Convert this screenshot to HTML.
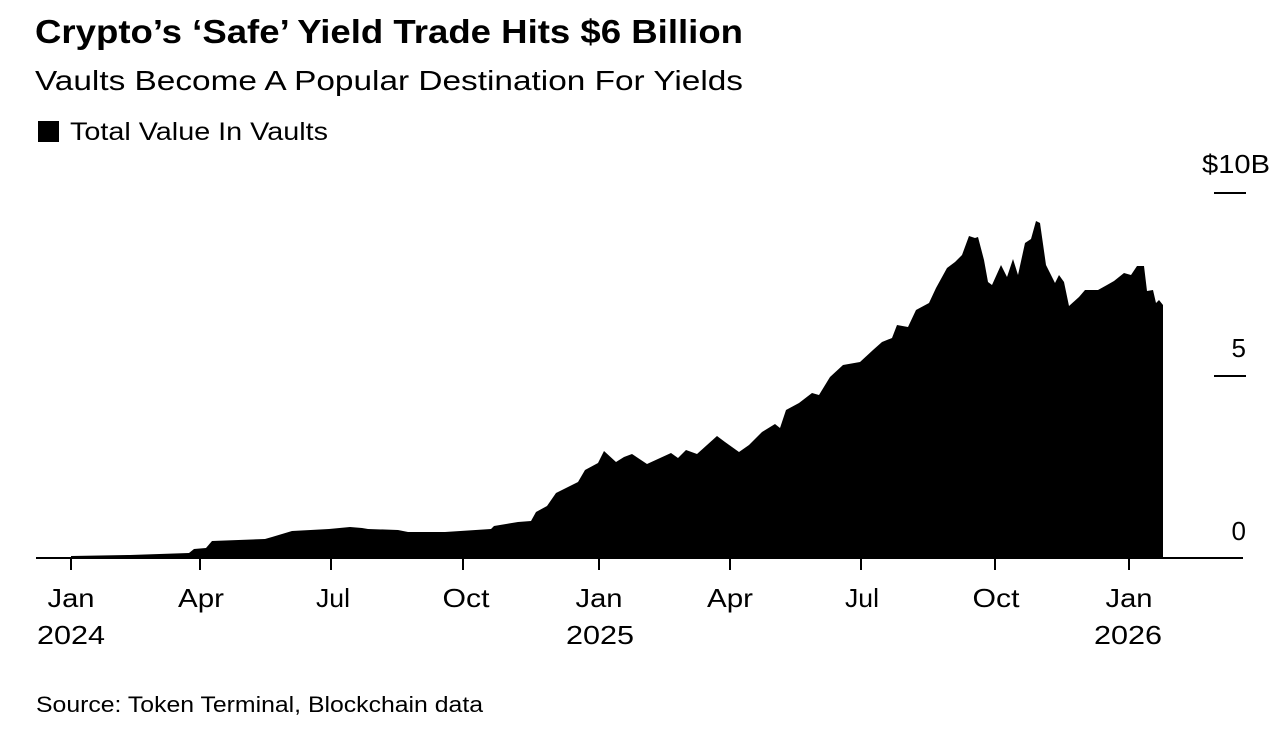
<!DOCTYPE html>
<html><head><meta charset="utf-8"><style>
body{margin:0;background:#fff;width:1270px;height:732px;overflow:hidden;font-family:"Liberation Sans",sans-serif;color:#000}
</style></head><body>
<svg width="1270" height="732" style="position:absolute;left:0;top:0" font-family="Liberation Sans, sans-serif">
<text x="35" y="43" font-size="33" font-weight="bold" textLength="708" lengthAdjust="spacingAndGlyphs">Crypto’s ‘Safe’ Yield Trade Hits $6 Billion</text>
<text x="35" y="90" font-size="28" textLength="708" lengthAdjust="spacingAndGlyphs">Vaults Become A Popular Destination For Yields</text>
<rect x="38" y="121" width="21" height="21" fill="#000"/>
<text x="70" y="140" font-size="25" textLength="258" lengthAdjust="spacingAndGlyphs">Total Value In Vaults</text>
<path fill="#000" d="M71,558 L71,556 130,555 189,553 194,549 206,548 212,541 265,539 272,537 292,531 329,529 350,527 362,528 368,529 398,530 408,532 445,532 491,529 494,526 518,522 531,521 536,512 547,506 556,493 578,482 585,470 598,463 604,451 616,462 624,457 632,454 647,464 671,453 678,458 686,450 697,454 717,436 725,442 739,452 749,445 762,432 775,424 780,428 786,410 799,403 812,393 819,395 830,377 843,365 860,362 873,350 882,342 892,338 897,325 908,327 916,310 929,303 936,288 947,268 955,262 962,255 969,236 975,238 978,237 984,260 988,282 992,285 1001,265 1007,277 1013,259 1018,275 1025,243 1031,239 1036,221 1040,223 1046,265 1055,283 1059,275 1064,282 1069,306 1079,297 1085,290 1098,290 1107,285 1114,281 1124,273 1131,275 1137,266 1144,266 1147,291 1153,290 1156,303 1159,300 1163,305 L1163,558 Z"/>
<line x1="36" y1="558" x2="1243" y2="558" stroke="#000" stroke-width="2"/>
<g stroke="#000" stroke-width="2">
<line x1="71" y1="558" x2="71" y2="570"/><line x1="200" y1="558" x2="200" y2="570"/><line x1="331" y1="558" x2="331" y2="570"/><line x1="463" y1="558" x2="463" y2="570"/>
<line x1="599" y1="558" x2="599" y2="570"/><line x1="730" y1="558" x2="730" y2="570"/><line x1="861" y1="558" x2="861" y2="570"/><line x1="995" y1="558" x2="995" y2="570"/><line x1="1129" y1="558" x2="1129" y2="570"/>
<line x1="1214" y1="193" x2="1246" y2="193"/><line x1="1214" y1="376" x2="1246" y2="376"/>
</g>
<g font-size="26" text-anchor="middle">
<text x="71" y="607" textLength="47" lengthAdjust="spacingAndGlyphs">Jan</text><text x="71" y="644" textLength="68" lengthAdjust="spacingAndGlyphs">2024</text>
<text x="201" y="607" textLength="46" lengthAdjust="spacingAndGlyphs">Apr</text><text x="333" y="607" textLength="34" lengthAdjust="spacingAndGlyphs">Jul</text><text x="466" y="607" textLength="47" lengthAdjust="spacingAndGlyphs">Oct</text>
<text x="599" y="607" textLength="47" lengthAdjust="spacingAndGlyphs">Jan</text><text x="600" y="644" textLength="68" lengthAdjust="spacingAndGlyphs">2025</text>
<text x="730" y="607" textLength="46" lengthAdjust="spacingAndGlyphs">Apr</text><text x="862" y="607" textLength="34" lengthAdjust="spacingAndGlyphs">Jul</text><text x="996" y="607" textLength="47" lengthAdjust="spacingAndGlyphs">Oct</text>
<text x="1129" y="607" textLength="47" lengthAdjust="spacingAndGlyphs">Jan</text><text x="1128" y="644" textLength="68" lengthAdjust="spacingAndGlyphs">2026</text>
</g>
<text x="1202" y="173" font-size="26" textLength="68" lengthAdjust="spacingAndGlyphs">$10B</text>
<g font-size="26" text-anchor="end">
<text x="1246" y="357">5</text><text x="1246" y="540">0</text>
</g>
<text x="36" y="712" font-size="22" textLength="447" lengthAdjust="spacingAndGlyphs">Source: Token Terminal, Blockchain data</text>
</svg>
</body></html>
